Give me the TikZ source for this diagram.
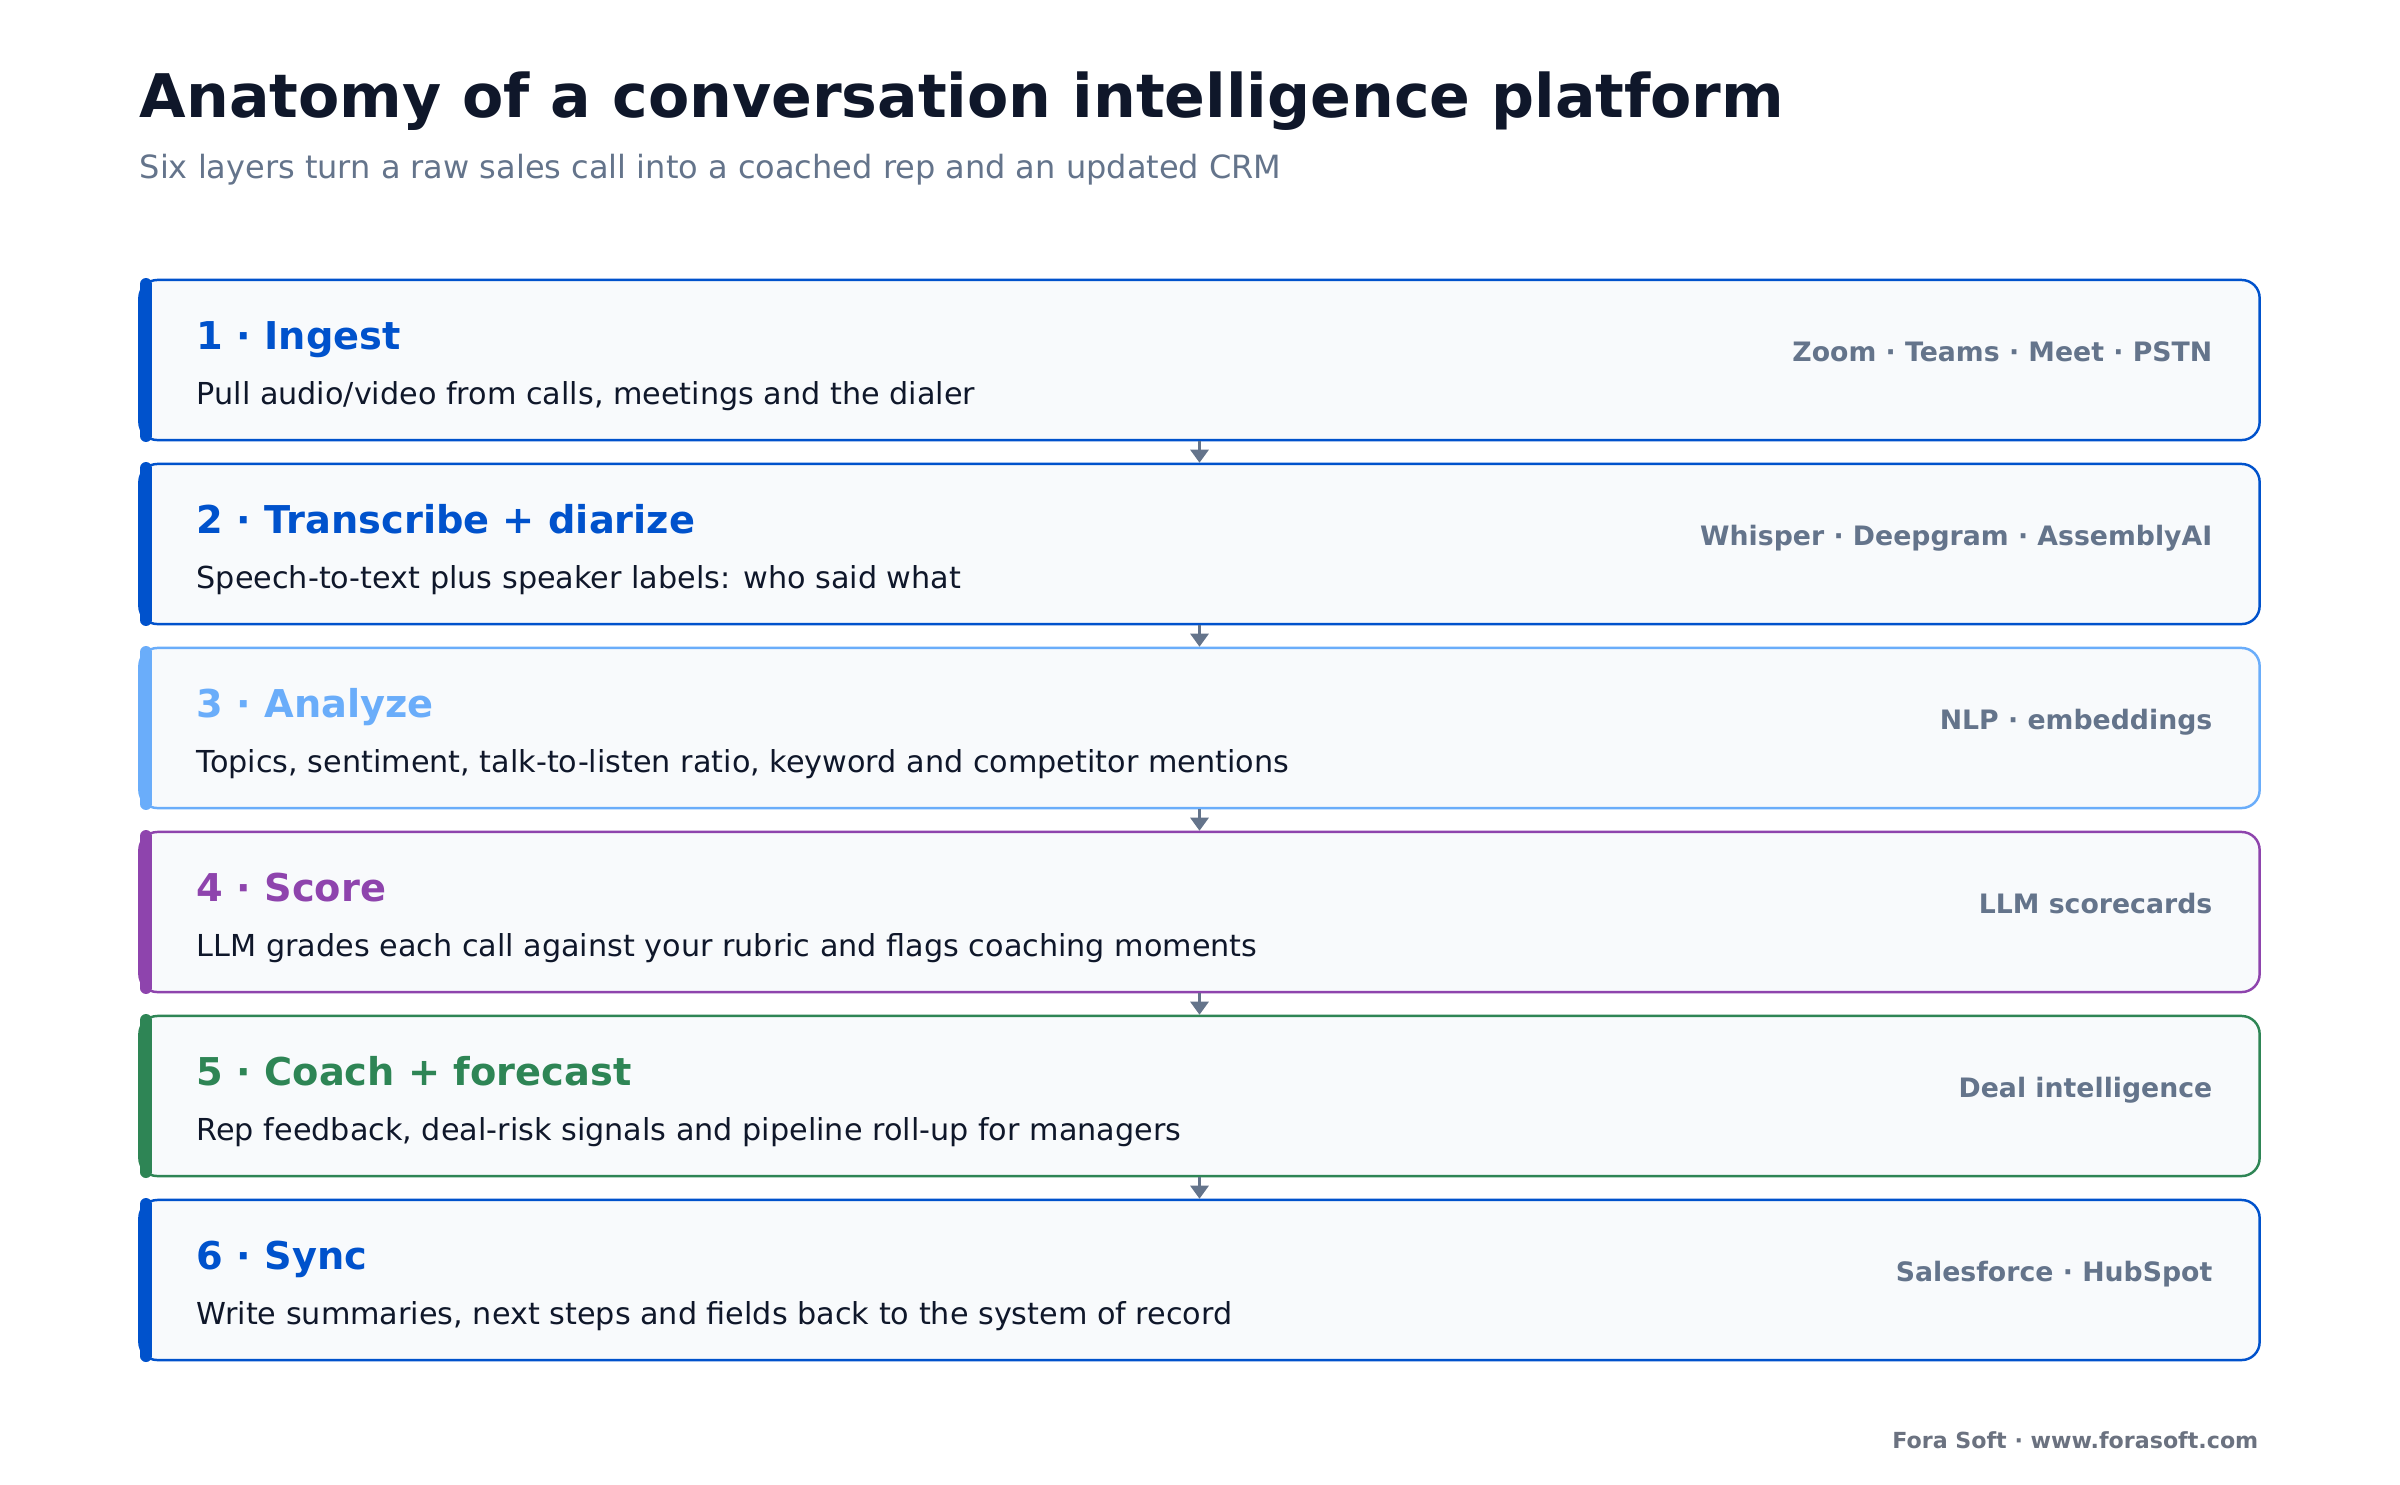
\documentclass[tikz,border=0pt]{standalone}
\usepackage{fontspec}
\setmainfont{DejaVu Sans}
\usetikzlibrary{arrows.meta}

\definecolor{ink}{HTML}{0F172A}
\definecolor{muted}{HTML}{64748B}
\definecolor{footgray}{HTML}{6B7280}
\definecolor{boxfill}{HTML}{F8FAFC}
\definecolor{layerblue}{HTML}{0052CC}
\definecolor{layersky}{HTML}{6AADFA}
\definecolor{layerpurple}{HTML}{8E44AD}
\definecolor{layergreen}{HTML}{2E8555}

\tikzset{
  layerbox/.style={draw=#1, fill=boxfill, line width=0.7pt, rounded corners=0.18cm,
    minimum width=21.19cm, minimum height=1.6cm, inner sep=0pt},
  layerbar/.style={draw=#1, line width=3.4pt, line cap=round},
  steptitle/.style={anchor=base west, inner sep=0pt, text=#1,
    font=\fontsize{10.9}{13}\selectfont\bfseries},
  stepdesc/.style={anchor=base west, inner sep=0pt, text=ink,
    font=\fontsize{8.6}{10}\selectfont},
  steptag/.style={anchor=base east, inner sep=0pt, text=muted,
    font=\fontsize{7.6}{9}\selectfont\bfseries},
  flow/.style={draw=muted, line width=0.8pt, -{Triangle[width=0.18cm,length=0.13cm]}}
}

\begin{document}
\begin{tikzpicture}[x=0.01cm, y=-0.01cm]
	\useasboundingbox[fill=white] (0,0) rectangle (2400,1484);

	% heading
	\node[anchor=base west, inner sep=0pt, text=ink, font=\fontsize{17.1}{20}\selectfont\bfseries]
		(title) at (139,117) {Anatomy of a conversation intelligence platform};
	\node[anchor=base west, inner sep=0pt, text=muted, font=\fontsize{9.1}{11}\selectfont]
		(subtitle) at (139,178) {Six layers turn a raw sales call into a coached rep and an updated CRM};

	% layer 1
	\node[layerbox=layerblue] (ingest) at (1199.5,360) {};
	\draw[layerbar=layerblue] (146,284) -- (146,436);
	\node[steptitle=layerblue] (ingest-t) at (196,349) {1 · Ingest};
	\node[stepdesc] (ingest-d) at (196,404) {Pull audio/video from calls, meetings and the dialer};
	\node[steptag] (ingest-g) at (2213,361) {Zoom · Teams · Meet · PSTN};

	% layer 2
	\node[layerbox=layerblue] (transcribe) at (1199.5,544) {};
	\draw[layerbar=layerblue] (146,468) -- (146,620);
	\node[steptitle=layerblue] (transcribe-t) at (196,533) {2 · Transcribe + diarize};
	\node[stepdesc] (transcribe-d) at (196,588) {Speech-to-text plus speaker labels: who said what};
	\node[steptag] (transcribe-g) at (2213,545) {Whisper · Deepgram · AssemblyAI};

	% layer 3
	\node[layerbox=layersky] (analyze) at (1199.5,728) {};
	\draw[layerbar=layersky] (146,652) -- (146,804);
	\node[steptitle=layersky] (analyze-t) at (196,717) {3 · Analyze};
	\node[stepdesc] (analyze-d) at (196,772) {Topics, sentiment, talk-to-listen ratio, keyword and competitor mentions};
	\node[steptag] (analyze-g) at (2213,729) {NLP · embeddings};

	% layer 4
	\node[layerbox=layerpurple] (score) at (1199.5,912) {};
	\draw[layerbar=layerpurple] (146,836) -- (146,988);
	\node[steptitle=layerpurple] (score-t) at (196,901) {4 · Score};
	\node[stepdesc] (score-d) at (196,956) {LLM grades each call against your rubric and flags coaching moments};
	\node[steptag] (score-g) at (2213,913) {LLM scorecards};

	% layer 5
	\node[layerbox=layergreen] (coach) at (1199.5,1096) {};
	\draw[layerbar=layergreen] (146,1020) -- (146,1172);
	\node[steptitle=layergreen] (coach-t) at (196,1085) {5 · Coach + forecast};
	\node[stepdesc] (coach-d) at (196,1140) {Rep feedback, deal-risk signals and pipeline roll-up for managers};
	\node[steptag] (coach-g) at (2213,1097) {Deal intelligence};

	% layer 6
	\node[layerbox=layerblue] (sync) at (1199.5,1280) {};
	\draw[layerbar=layerblue] (146,1204) -- (146,1356);
	\node[steptitle=layerblue] (sync-t) at (196,1269) {6 · Sync};
	\node[stepdesc] (sync-d) at (196,1324) {Write summaries, next steps and fields back to the system of record};
	\node[steptag] (sync-g) at (2213,1281) {Salesforce · HubSpot};

	% flow between layers
	\draw[flow] (ingest.south) -- (transcribe.north);
	\draw[flow] (transcribe.south) -- (analyze.north);
	\draw[flow] (analyze.south) -- (score.north);
	\draw[flow] (score.south) -- (coach.north);
	\draw[flow] (coach.south) -- (sync.north);

	% footer
	\node[anchor=base east, inner sep=0pt, text=footgray, font=\fontsize{6.3}{7}\selectfont\bfseries]
		(footer) at (2259,1448) {Fora Soft · www.forasoft.com};
\end{tikzpicture}
\end{document}
